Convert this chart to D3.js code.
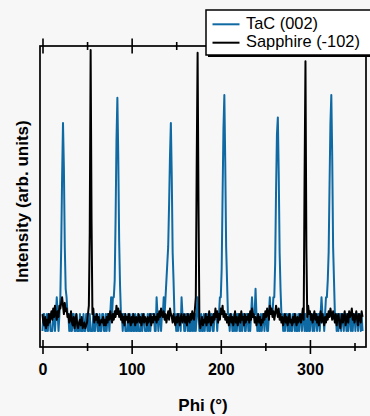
<!DOCTYPE html>
<html>
<head>
<meta charset="utf-8">
<script src="https://cdn.jsdelivr.net/npm/d3@7"></script>
<style>
  html, body { margin: 0; padding: 0; background: #f7f7f7; }
  svg { display: block; font-family: "Liberation Sans", Arial, sans-serif; }
  .tick line { stroke: #000; stroke-width: 1.6; }
  .tick text { font-size: 16px; font-weight: bold; fill: #000; }
</style>
</head>
<body>
<svg id="chart" width="370" height="416"></svg>
<script>
// phi from 0 to 359 deg, 1 deg step
const phiStart = 0;
// TaC (002) intensity, arb. units
const tacValues = [
  0,6,6,0,0,6,0,6,6,0,
  0,0,6,6,0,6,12,6,0,6,
  12,30,55,74,58,30,15,12,6,6,
  0,6,0,0,6,6,0,0,6,0,
  0,0,6,0,0,0,6,0,0,6,
  6,0,0,6,0,0,0,6,0,0,
  6,6,0,0,6,0,0,6,6,0,
  0,6,0,6,6,0,6,12,6,12,
  12,18,40,68,83,62,32,16,6,6,
  0,6,6,0,0,0,6,0,6,0,
  0,6,0,0,6,0,0,6,0,0,
  0,6,0,6,6,0,0,0,6,0,
  6,0,6,6,6,6,0,0,12,6,
  0,6,6,0,6,6,12,6,12,18,
  24,30,45,62,74,55,28,18,6,6,
  0,6,0,6,6,0,12,6,6,0,
  0,6,6,0,6,0,0,6,0,6,
  0,6,0,6,12,6,0,0,6,0,
  0,6,0,6,6,0,6,0,0,6,
  6,0,0,6,6,6,0,6,6,12,
  12,22,48,72,84,60,30,18,6,6,
  0,6,6,0,0,6,0,6,0,6,
  6,0,0,6,0,6,6,0,0,6,
  6,0,6,0,6,12,6,6,6,15,
  6,0,6,0,0,6,0,6,6,0,
  6,6,0,0,6,12,6,6,6,12,
  12,24,50,70,76,56,28,15,6,6,
  0,6,0,6,6,0,6,0,6,0,
  0,6,6,0,6,0,0,6,0,6,
  6,0,6,6,0,6,0,0,6,0,
  0,6,6,0,6,0,6,6,0,6,
  6,0,6,12,6,6,0,6,12,12,
  18,28,52,74,84,62,30,18,6,6,
  0,6,0,6,6,0,6,6,0,6,
  6,0,6,0,6,6,0,6,0,6,
  6,0,6,6,0,6,6,0,6,0
];
// Sapphire (-102) intensity, arb. units
const sapphireValues = [
  6,3,2,5,1,4,2,6,3,5,
  7,4,8,5,9,6,4,7,5,9,
  8,10,12,9,6,10,7,8,5,6,
  3,4,7,3,2,5,1,4,6,2,
  1,3,4,2,5,1,2,3,1,2,
  3,6,9,35,100,40,6,8,3,5,
  4,6,3,5,2,3,4,3,5,2,
  4,2,5,3,6,4,7,5,3,6,
  4,7,5,9,6,8,5,7,4,6,
  3,5,2,6,4,5,3,6,4,2,
  5,3,6,4,2,5,3,4,6,3,
  5,2,4,6,3,5,4,2,5,3,
  4,6,2,5,3,6,4,5,3,6,
  4,7,5,8,6,5,7,4,6,3,
  5,7,4,8,6,5,3,6,4,2,
  5,3,6,4,2,5,6,3,4,6,
  3,5,2,6,4,3,6,4,7,5,
  4,8,12,60,99,45,4,1,3,5,
  2,4,3,6,2,5,3,7,4,2,
  5,3,6,4,8,5,7,3,6,4,
  8,6,9,5,7,4,6,3,5,2,
  4,6,3,5,2,4,7,3,5,2,
  4,6,3,7,4,5,2,6,3,5,
  4,6,3,7,4,8,5,6,3,5,
  2,4,6,3,5,2,4,3,6,4,
  7,5,8,6,4,9,6,8,5,7,
  4,6,9,7,5,8,4,6,3,5,
  2,4,6,3,5,2,4,6,3,4,
  2,5,3,6,4,2,5,3,4,6,
  3,5,8,4,55,96,30,5,9,6,
  7,4,6,3,5,7,4,6,3,5,
  2,5,7,3,6,4,2,5,3,6,
  4,7,5,8,6,4,7,5,3,6,
  2,5,6,3,1,4,6,3,5,7,
  2,4,6,3,7,5,6,8,4,6,
  3,5,7,4,2,6,5,3,7,5
];
const majorTicks = [0, 100, 200, 300];
const minorTicks = [50, 150, 250, 350];
const seriesNames = ['TaC (002)', 'Sapphire (-102)'];
const seriesColors = ['#0f69a3', '#000000'];

const svg = d3.select('#chart');
const box = { left: 40, right: 366, top: 46, bottom: 347 };

const x = d3.scaleLinear().domain([-2.8, 362.9]).range([box.left, box.right]);
const y = d3.scaleLinear().domain([-5.7, 101.4]).range([box.bottom, box.top]);

// data lines
const line = d3.line()
  .x((d, i) => x(phiStart + i))
  .y(d => y(d));

[tacValues, sapphireValues].forEach((vals, k) => {
  svg.append('path')
    .datum(vals)
    .attr('fill', 'none')
    .attr('stroke', seriesColors[k])
    .attr('stroke-width', 2)
    .attr('stroke-linejoin', 'round')
    .attr('d', line);
});

// frame
svg.append('rect')
  .attr('x', box.left).attr('y', box.top)
  .attr('width', box.right - box.left).attr('height', box.bottom - box.top)
  .attr('fill', 'none').attr('stroke', '#000').attr('stroke-width', 1.7);

// ticks crossing the bottom and top axes
function addTicks(yPos, values, size, labels) {
  const down = svg.append('g').attr('transform', `translate(0,${yPos})`)
    .call(d3.axisBottom(x).tickValues(values).tickSize(size).tickFormat(labels ? d3.format('d') : ''));
  const up = svg.append('g').attr('transform', `translate(0,${yPos})`)
    .call(d3.axisTop(x).tickValues(values).tickSize(size).tickFormat(''));
  down.select('.domain').remove();
  up.select('.domain').remove();
  if (labels) down.selectAll('text').attr('y', 28).attr('dy', 0);
}
addTicks(box.bottom, majorTicks, 7, true);
addTicks(box.bottom, minorTicks, 4, false);
addTicks(box.top, majorTicks, 7.5, false);
addTicks(box.top, minorTicks, 4, false);

// axis titles
svg.append('text')
  .attr('x', (box.left + box.right) / 2).attr('y', 411)
  .attr('text-anchor', 'middle')
  .style('font-size', '17px').style('font-weight', 'bold')
  .text('Phi (°)');

svg.append('text')
  .attr('transform', 'translate(27.5,201.5) rotate(-90)')
  .attr('text-anchor', 'middle')
  .style('font-size', '17px').style('font-weight', 'bold')
  .text('Intensity (arb. units)');

// legend with shadow
const lg = svg.append('g');
lg.append('rect').attr('x', 208).attr('y', 12).attr('width', 180).attr('height', 45).attr('fill', '#000');
lg.append('rect').attr('x', 206).attr('y', 10).attr('width', 180).attr('height', 45)
  .attr('fill', '#fff').attr('stroke', '#000').attr('stroke-width', 1.5);
seriesNames.forEach((name, k) => {
  const yy = 24.3 + k * 18.4;
  lg.append('line').attr('x1', 212.5).attr('x2', 239.5).attr('y1', yy).attr('y2', yy)
    .attr('stroke', seriesColors[k]).attr('stroke-width', 2);
  lg.append('text').attr('x', 246).attr('y', yy + 4.2 + (k ? -0.2 : 0))
    .style('font-size', '16.4px').text(name);
});
</script>
</body>
</html>
